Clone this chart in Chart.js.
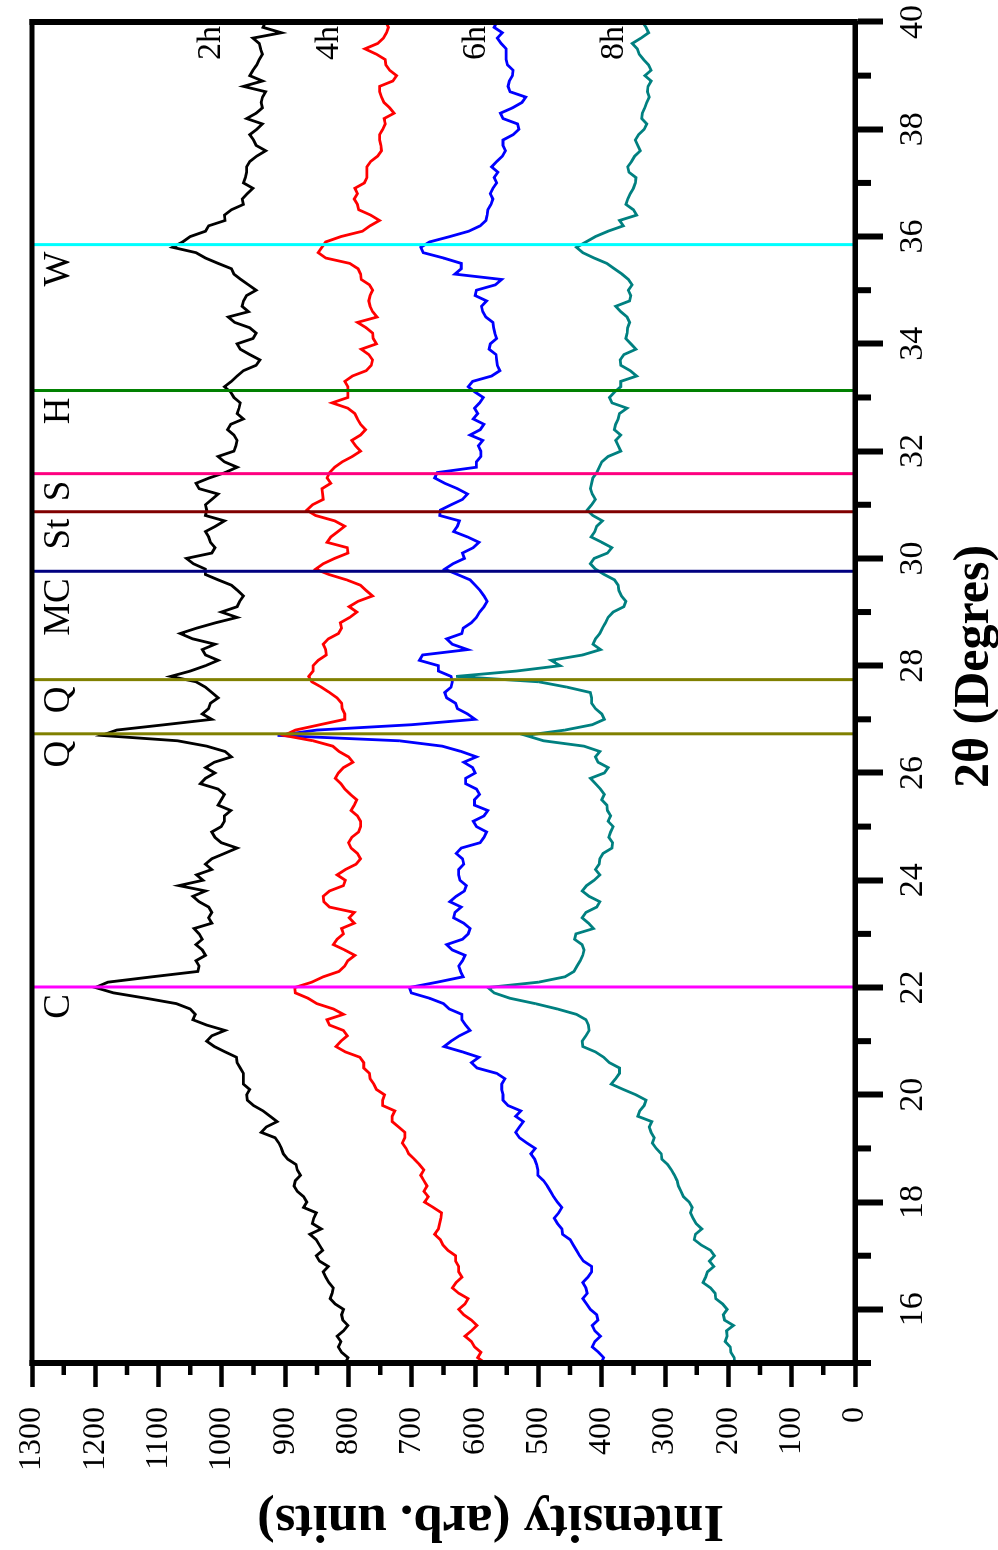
<!DOCTYPE html>
<html>
<head>
<meta charset="utf-8">
<script src="https://cdn.jsdelivr.net/npm/chart.js@4.4.1/dist/chart.umd.min.js"></script>
<style>
html,body{margin:0;padding:0;width:998px;height:1550px;overflow:hidden;background:#fff}
#rot{position:absolute;left:0;top:1550px;width:1550px;height:998px;transform-origin:0 0;transform:rotate(-90deg)}
canvas{display:block}
</style>
</head>
<body>
<div id="rot"><canvas id="c" width="1550" height="998"></canvas></div>
<script>
// ---------- DATA ----------
const twoTheta = [
15,15.1,15.2,15.3,15.4,15.5,15.6,15.7,15.8,15.9,
16,16.1,16.2,16.3,16.4,16.5,16.6,16.7,16.8,16.9,
17,17.1,17.2,17.3,17.4,17.5,17.6,17.7,17.8,17.9,
18,18.1,18.2,18.3,18.4,18.5,18.6,18.7,18.8,18.9,
19,19.1,19.2,19.3,19.4,19.5,19.6,19.7,19.8,19.9,
20,20.1,20.2,20.3,20.4,20.5,20.6,20.7,20.8,20.9,
21,21.1,21.2,21.3,21.4,21.5,21.6,21.7,21.8,21.9,
22,22.1,22.2,22.3,22.4,22.5,22.6,22.7,22.8,22.9,
23,23.1,23.2,23.3,23.4,23.5,23.6,23.7,23.8,23.9,
24,24.1,24.2,24.3,24.4,24.5,24.6,24.7,24.8,24.9,
25,25.1,25.2,25.3,25.4,25.5,25.6,25.7,25.8,25.9,
26,26.1,26.2,26.3,26.4,26.5,26.6,26.7,26.8,26.9,
27,27.1,27.2,27.3,27.4,27.5,27.6,27.7,27.8,27.9,
28,28.1,28.2,28.3,28.4,28.5,28.6,28.7,28.8,28.9,
29,29.1,29.2,29.3,29.4,29.5,29.6,29.7,29.8,29.9,
30,30.1,30.2,30.3,30.4,30.5,30.6,30.7,30.8,30.9,
31,31.1,31.2,31.3,31.4,31.5,31.6,31.7,31.8,31.9,
32,32.1,32.2,32.3,32.4,32.5,32.6,32.7,32.8,32.9,
33,33.1,33.2,33.3,33.4,33.5,33.6,33.7,33.8,33.9,
34,34.1,34.2,34.3,34.4,34.5,34.6,34.7,34.8,34.9,
35,35.1,35.2,35.3,35.4,35.5,35.6,35.7,35.8,35.9,
36,36.1,36.2,36.3,36.4,36.5,36.6,36.7,36.8,36.9,
37,37.1,37.2,37.3,37.4,37.5,37.6,37.7,37.8,37.9,
38,38.1,38.2,38.3,38.4,38.5,38.6,38.7,38.8,38.9,
39,39.1,39.2,39.3,39.4,39.5,39.6,39.7,39.8,39.9,
40];

const series2h = [
805,801,811,816,812,818,808,801,809,811,
808,821,829,826,824,831,836,840,832,846,
851,841,846,851,861,843,857,855,851,871,
866,871,881,886,884,876,881,883,896,903,
906,910,916,938,930,913,924,935,950,960,
961,956,966,966,966,971,976,977,995,1012,
1024,1016,995,1024,1046,1042,1050,1072,1120,1171,
1200,1180,1110,1038,1036,1041,1026,1031,1041,1031,
1036,1044,1016,1021,1016,1021,1036,1046,1026,1068,
1030,1040,1016,1026,1016,996,976,1001,1011,1016,
1001,996,996,986,1006,1001,996,1006,1034,1026,
1011,1026,1012,985,995,1024,1070,1190,1166,1090,
1016,1031,1021,1018,1006,1016,1026,1041,1081,1050,
1026,1006,1026,1031,1011,1046,1066,1040,1010,976,
1001,976,972,966,975,985,1006,1026,1026,1045,
1056,1016,1011,1018,1021,1026,1010,996,1026,1024,
1026,1016,1006,1036,1041,1020,995,976,996,1006,
981,978,976,981,991,986,966,976,973,971,
981,986,996,985,976,966,946,940,956,971,
976,951,946,956,980,990,958,968,966,961,
946,958,970,981,985,1006,1026,1041,1078,1062,
1050,1026,1021,995,996,985,966,968,960,951,
966,963,961,961,956,945,931,946,950,956,
945,936,961,946,936,938,936,931,966,936,
956,951,945,941,936,939,941,951,906,935,
931];

const series4h = [
584,596,591,601,606,616,606,597,606,618,
626,616,611,626,636,630,621,626,626,631,
631,643,651,655,664,658,656,654,653,666,
680,674,681,676,681,686,681,688,696,705,
709,715,711,711,721,731,731,727,746,746,
743,756,760,766,767,776,776,782,805,820,
812,802,808,830,834,808,824,850,864,884,
885,858,840,815,806,801,790,806,824,818,
808,811,791,799,791,830,839,840,830,808,
805,818,805,788,781,786,796,800,795,784,
781,781,786,796,791,787,797,806,812,821,
816,808,793,800,815,825,856,902,884,845,
806,806,810,811,818,830,843,858,863,856,
856,848,835,836,840,832,816,811,813,798,
787,799,785,762,772,781,803,831,852,840,
822,801,802,834,828,817,806,822,852,866,
857,840,841,842,828,834,830,822,810,794,
781,789,795,781,773,781,786,790,801,826,
801,801,801,806,794,772,764,762,768,780,
756,761,762,772,786,755,762,766,768,766,
762,767,780,781,785,798,836,848,842,836,
812,778,766,751,765,784,786,791,786,790,
775,771,771,771,765,754,748,749,751,751,
746,742,744,728,735,744,748,751,751,730,
724,735,741,742,756,774,754,745,740,737,
741];

const series6h = [
401,397,405,415,411,402,411,415,406,408,
418,424,430,423,425,430,422,416,416,429,
435,440,445,450,462,463,470,475,468,463,
470,476,481,486,492,501,501,503,506,512,
505,518,530,536,530,524,536,528,548,556,
556,558,558,553,566,597,606,594,620,649,
638,625,608,615,621,621,641,650,672,701,
704,660,619,623,626,620,616,636,645,620,
611,608,618,634,632,622,640,630,617,614,
624,626,626,618,620,630,622,592,586,582,
598,603,586,580,601,601,593,598,615,615,
600,604,618,598,622,652,720,912,850,700,
600,612,628,631,645,648,638,636,638,658,
658,688,683,612,636,645,621,619,606,598,
593,586,581,586,592,600,608,628,648,635,
617,620,603,594,612,634,628,625,656,655,
638,620,612,628,648,664,660,598,598,591,
591,595,588,608,592,586,603,596,601,593,
587,600,611,604,574,561,565,566,567,578,
576,566,569,571,572,583,588,590,582,600,
598,568,558,632,622,622,650,682,686,672,
640,610,592,583,581,580,575,572,576,572,
566,570,564,574,566,557,552,556,556,540,
531,533,556,560,541,526,520,545,548,546,
541,540,549,551,551,551,559,565,557,570,
566];

const series8h = [
190,191,196,197,205,202,203,192,206,208,
202,209,220,221,228,240,236,233,223,230,
222,228,243,254,252,242,251,256,260,257,
262,271,275,279,281,285,290,296,305,306,
314,320,317,322,325,321,343,340,333,330,
346,366,385,378,372,372,388,397,410,430,
431,425,420,421,425,440,470,505,545,570,
580,500,458,444,439,434,430,428,431,443,
441,413,421,431,425,408,403,420,431,424,
412,403,410,404,403,398,384,383,389,386,
382,390,386,391,392,400,396,402,410,418,
396,390,406,410,403,428,492,520,458,415,
396,400,410,416,416,418,455,500,630,535,
466,480,430,402,414,410,403,399,394,390,
382,365,362,369,373,374,380,396,410,418,
412,391,384,400,417,411,408,399,414,423,
416,410,415,418,416,414,408,404,400,390,
370,374,378,370,380,378,374,372,360,384,
388,380,370,370,345,355,370,371,365,346,
354,362,360,359,356,360,370,378,356,354,
358,352,358,368,380,392,412,430,440,425,
410,390,366,372,345,350,362,359,355,350,
347,346,357,359,353,348,339,343,347,342,
333,329,337,336,332,329,325,328,327,322,
332,322,326,334,341,344,352,338,326,330,
336];

const seriesNames = ['2h', '4h', '6h', '8h'];
const phaseAngles = [22.01, 26.73, 27.74, 29.76, 30.87, 31.58, 33.13, 35.85];
const phaseNames = ['C', 'Q', 'Q', 'MC', 'St', 'S', 'H', 'W'];
const intensityTicks = [0,100,200,300,400,500,600,700,800,900,1000,1100,1200,1300];
const intensityMinorTicks = [50,150,250,350,450,550,650,750,850,950,1050,1150,1250];
const twoThetaTicks = [16,18,20,22,24,26,28,30,32,34,36,38,40];
const twoThetaMinorTicks = [15,17,19,21,23,25,27,29,31,33,35,37,39];
const xAxisTitle = '2\u03B8 (Degres)';
const yAxisTitle = 'Intensity (arb. units)';

// ---------- STYLE ----------
const seriesColors = ['#000000', '#ff0000', '#0000ff', '#008080'];
const phaseColors = ['#ff00ff', '#808000', '#808000', '#000080', '#800000', '#ff0080', '#008000', '#00ffff'];
const SERIF = '"Liberation Serif", "Times New Roman", serif';
Chart.defaults.font.family = SERIF;

const seriesData = [series2h, series4h, series6h, series8h];
const toPoints = vals => twoTheta.map((t, i) => ({ x: t, y: vals[i] }));

const decorations = {
  id: 'decorations',
  afterDraw(chart, args, opts) {
    const { ctx, chartArea: a, scales: { x, y } } = chart;
    ctx.save();
    ctx.strokeStyle = '#000';
    // frame
    ctx.lineWidth = 6;
    ctx.beginPath();
    ctx.moveTo(a.left, a.top - 2.5); ctx.lineTo(a.left, a.bottom + 2.5);
    ctx.moveTo(a.right, a.top - 2.5); ctx.lineTo(a.right, a.bottom + 2.5);
    ctx.stroke();
    ctx.lineWidth = 5;
    ctx.beginPath();
    ctx.moveTo(a.left - 3, a.top); ctx.lineTo(a.right + 3, a.top);
    ctx.moveTo(a.left - 3, a.bottom); ctx.lineTo(a.right + 3, a.bottom);
    ctx.stroke();
    // minor ticks
    ctx.lineWidth = 6;
    ctx.beginPath();
    twoThetaMinorTicks.forEach(v => {
      const px = x.getPixelForValue(v);
      ctx.moveTo(px, a.bottom); ctx.lineTo(px, a.bottom + 16);
    });
    ctx.stroke();
    ctx.lineWidth = 4.5;
    ctx.beginPath();
    intensityMinorTicks.forEach(v => {
      const py = y.getPixelForValue(v);
      ctx.moveTo(a.left, py); ctx.lineTo(a.left - 12, py);
    });
    ctx.stroke();
    // phase labels
    ctx.fillStyle = '#000';
    ctx.font = '37px ' + SERIF;
    ctx.textAlign = 'right';
    ctx.textBaseline = 'alphabetic';
    phaseAngles.forEach((ang, i) => {
      ctx.fillText(phaseNames[i], x.getPixelForValue(ang) - 7, a.top + 37);
    });
    // series labels
    ctx.font = '34px ' + SERIF;
    opts.seriesLabelAt.forEach((iv, i) => {
      ctx.fillText(seriesNames[i], a.right - 4, y.getPixelForValue(iv));
    });
    // axis titles
    ctx.textAlign = 'center';
    ctx.textBaseline = 'middle';
    ctx.font = 'bold 50px ' + SERIF;
    ctx.fillText(xAxisTitle, (a.left + a.right) / 2 + 26, 975);
    ctx.save();
    ctx.font = 'bold 53px ' + SERIF;
    ctx.translate(30, (a.top + a.bottom) / 2 + 47);
    ctx.rotate(-Math.PI / 2);
    ctx.fillText(yAxisTitle, 0, 0);
    ctx.restore();
    ctx.restore();
  }
};

new Chart(document.getElementById('c'), {
  type: 'line',
  data: {
    datasets: [
      ...phaseAngles.map((ang, i) => ({
        label: phaseNames[i],
        data: [{ x: ang, y: 0 }, { x: ang, y: 1300 }],
        borderColor: phaseColors[i],
        borderWidth: 3,
        pointRadius: 0,
        order: 0
      })),
      ...seriesData.map((vals, i) => ({
        label: seriesNames[i],
        data: toPoints(vals),
        borderColor: seriesColors[i],
        borderWidth: 2.8,
        pointRadius: 0,
        tension: 0,
        order: 1
      }))
    ]
  },
  options: {
    responsive: false,
    animation: false,
    devicePixelRatio: 1,
    layout: { padding: { left: 0, top: 32, right: 22, bottom: 0 } },
    plugins: {
      legend: { display: false },
      tooltip: { enabled: false },
      decorations: { seriesLabelAt: [1003, 817, 585, 367] }
    },
    scales: {
      x: {
        type: 'linear',
        position: 'bottom',
        min: 15,
        max: 40,
        afterBuildTicks: s => { s.ticks = twoThetaTicks.map(v => ({ value: v })); },
        afterFit: s => { s.height = 143; s.paddingLeft = 0; s.paddingRight = 0; },
        ticks: {
          autoSkip: false,
          maxRotation: 0,
          padding: 10,
          color: '#000',
          font: { size: 34, family: SERIF },
          callback: v => String(v)
        },
        grid: { drawOnChartArea: false, drawTicks: true, tickLength: 28, tickWidth: 6, tickColor: '#000' },
        border: { display: true, width: 5, color: '#000' }
      },
      y: {
        type: 'linear',
        position: 'left',
        min: 0,
        max: 1300,
        afterBuildTicks: s => { s.ticks = intensityTicks.map(v => ({ value: v })); },
        afterFit: s => { s.width = 187; s.paddingTop = 0; s.paddingBottom = 0; },
        ticks: {
          padding: 20,
          color: '#000',
          font: { size: 32, family: SERIF },
          callback: v => String(v)
        },
        grid: { drawOnChartArea: false, drawTicks: true, tickLength: 24, tickWidth: 4.5, tickColor: '#000' },
        border: { display: true, width: 5, color: '#000' }
      }
    }
  },
  plugins: [decorations]
});
</script>
</body>
</html>
